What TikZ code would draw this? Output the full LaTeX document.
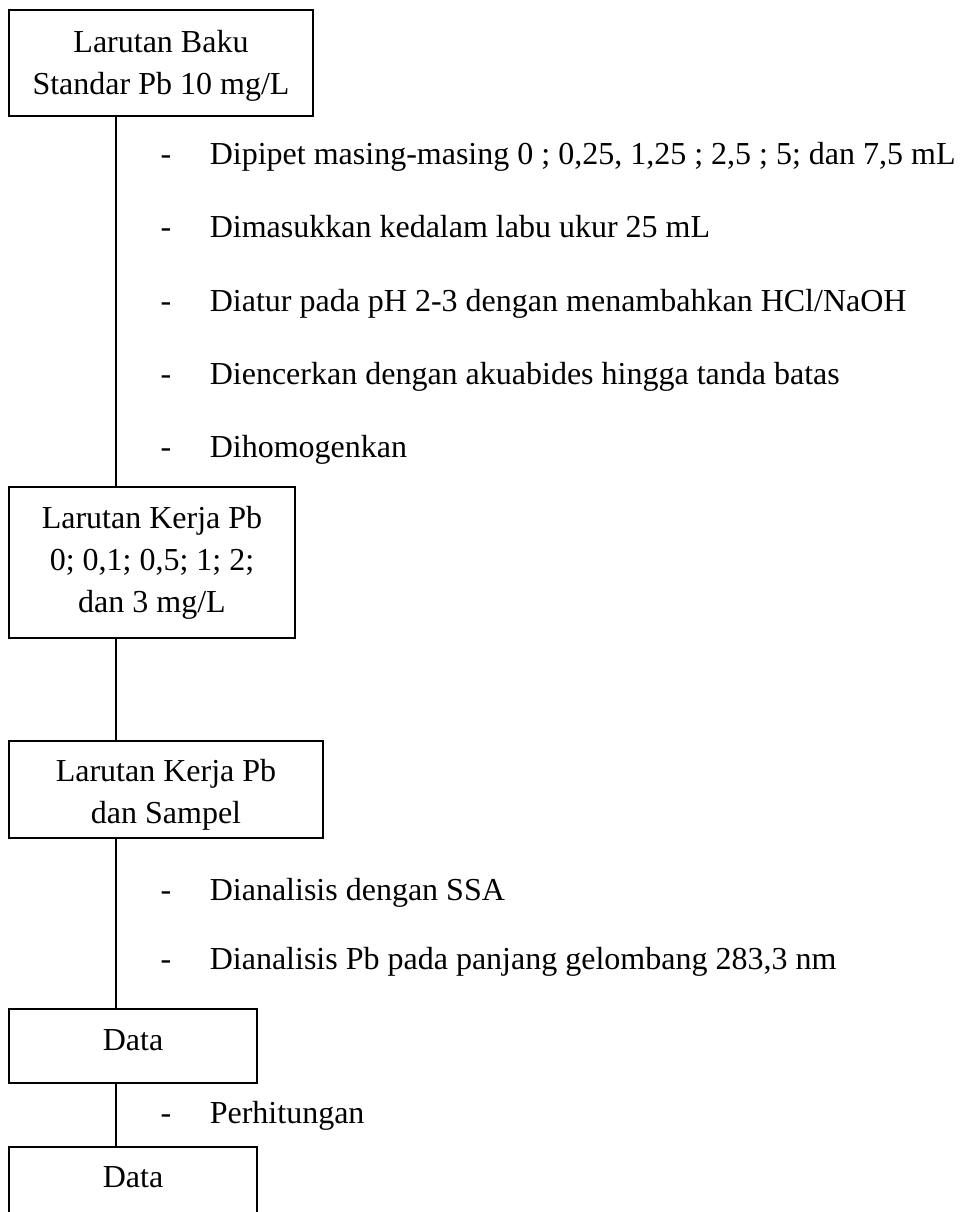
\documentclass[tikz,border=0pt]{standalone}
\usepackage{fontspec}
\setmainfont{Liberation Serif}
\usetikzlibrary{positioning,calc}

\tikzset{
  box/.style={draw, inner sep=0pt, outer sep=0pt},
  boxtext/.style={align=center, inner sep=0pt, anchor=base},
  dashmark/.style={anchor=base, inner sep=0pt},
  steptext/.style={anchor=base west, inner sep=0pt}
}

\begin{document}
\begin{tikzpicture}[x=0.375pt, y=-0.375pt, line width=0.6pt, font=\fontsize{12}{15.75}\selectfont]
    \useasboundingbox (0,0) rectangle (960,1212);

    % Boxes
    \node [box, minimum width=114pt, minimum height=39.75pt] (b1) at (161,63) {};
    \node [box, minimum width=107.25pt, minimum height=56.625pt] (b2) at (152,562.5) {};
    \node [box, minimum width=117.75pt, minimum height=36.375pt] (b3) at (166,789.5) {};
    \node [box, minimum width=93pt, minimum height=27.75pt] (b4) at (133,1046) {};
    \node [box, minimum width=93pt, minimum height=27.75pt] (b5) at (133,1184) {};

    % Box texts (base = last line)
    \node [boxtext] (t1) at (161,95) {Larutan Baku\\Standar Pb 10 mg/L};
    \node [boxtext] (t2) at (152,612) {Larutan Kerja Pb\\0; 0,1; 0,5; 1; 2;\\dan 3 mg/L};
    \node [boxtext] (t3) at (166,823) {Larutan Kerja Pb\\dan Sampel};
    \node [boxtext] (t4) at (133,1050) {Data};
    \node [boxtext] (t5) at (133,1187) {Data};

    % Spine
    \coordinate (sp) at (116,0);
    \draw (b1.south -| sp) -- (b2.north -| sp);
    \draw (b2.south -| sp) -- (b3.north -| sp);
    \draw (b3.south -| sp) -- (b4.north -| sp);
    \draw (b4.south -| sp) -- (b5.north -| sp);

    % Steps to working solutions
    \node [dashmark] (d1) at (166,165) {-};
    \node [steptext] (s1) at (209,165) {Dipipet masing-masing 0 ; 0,25, 1,25 ; 2,5 ; 5; dan 7,5 mL};
    \node [dashmark] (d2) at (166,238) {-};
    \node [steptext] (s2) at (209,238) {Dimasukkan kedalam labu ukur 25 mL};
    \node [dashmark] (d3) at (166,311) {-};
    \node [steptext] (s3) at (209,311) {Diatur pada pH 2-3 dengan menambahkan HCl/NaOH};
    \node [dashmark] (d4) at (166,384) {-};
    \node [steptext] (s4) at (209,384) {Diencerkan dengan akuabides hingga tanda batas};
    \node [dashmark] (d5) at (166,457) {-};
    \node [steptext] (s5) at (209,457) {Dihomogenkan};

    % Steps to data
    \node [dashmark] (d6) at (166,900) {-};
    \node [steptext] (s6) at (209,900) {Dianalisis dengan SSA};
    \node [dashmark] (d7) at (166,969) {-};
    \node [steptext] (s7) at (209,969) {Dianalisis Pb pada panjang gelombang 283,3 nm};

    % Calculation
    \node [dashmark] (d8) at (166,1123) {-};
    \node [steptext] (s8) at (209,1123) {Perhitungan};
\end{tikzpicture}
\end{document}
